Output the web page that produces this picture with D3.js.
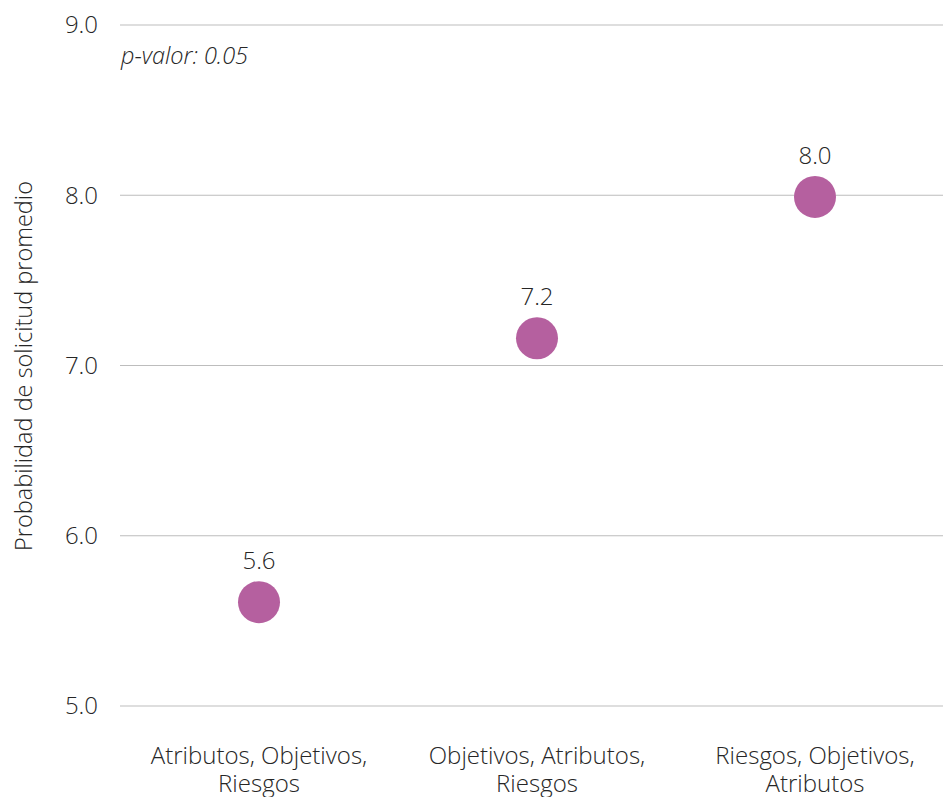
<!DOCTYPE html>
<html><head><meta charset="utf-8">
<script src="https://cdn.jsdelivr.net/npm/d3@7"></script>
<style>body{margin:0;background:#fff;}text{font-family:"Open Sans",sans-serif;font-weight:300;fill:#262626;}</style>
</head><body><svg id="c" width="943" height="797"></svg>
<script>
const categories = [["Atributos, Objetivos,","Riesgos"],["Objetivos, Atributos,","Riesgos"],["Riesgos, Objetivos,","Atributos"]];
const values = [5.61, 7.16, 7.99];
const valueLabels = ["5.6","7.2","8.0"];
const yTicks = [5,6,7,8,9];
const yTitle = "Probabilidad de solicitud promedio";
const note = "p-valor: 0.05";

const svg = d3.select("#c");
const x = d3.scaleBand().domain(d3.range(categories.length)).range([120, 954]);
const y = d3.scaleLinear().domain([5,9]).range([706, 25]);

const g = svg.append("g");
g.selectAll("line.grid").data(yTicks).join("line")
  .attr("x1",120).attr("x2",943).attr("y1",d=>y(d)).attr("y2",d=>y(d))
  .attr("stroke","#bdbdbd").attr("stroke-width",1.2);
g.selectAll("text.yt").data(yTicks).join("text")
  .attr("x",98).attr("y",d=>y(d)).attr("dy","0.35em").attr("text-anchor","end")
  .style("font-size","24px").text(d=>d.toFixed(1));

svg.append("text").attr("transform","translate(32,366) rotate(-90)").attr("text-anchor","middle")
  .style("font-size","23.5px").text(yTitle);
svg.append("text").attr("x",121).attr("y",64).style("font-size","23.5px").style("font-style","italic").text(note);

const cx = i => x(i) + x.bandwidth()/2;
svg.selectAll("circle").data(values).join("circle")
  .attr("cx",(d,i)=>cx(i)).attr("cy",d=>y(d)).attr("r",21).attr("fill","#b5609f");
svg.selectAll("text.vl").data(values).join("text")
  .attr("x",(d,i)=>cx(i)).attr("y",d=>y(d)-33).attr("text-anchor","middle")
  .style("font-size","24px").text((d,i)=>valueLabels[i]);

categories.forEach((lines,i)=>{
  const t = svg.append("text").attr("x",cx(i)).attr("y",764).attr("text-anchor","middle").style("font-size","24px");
  lines.forEach((l,j)=>t.append("tspan").attr("x",cx(i)).attr("dy",j?28:0).text(l));
});
</script></body></html>
